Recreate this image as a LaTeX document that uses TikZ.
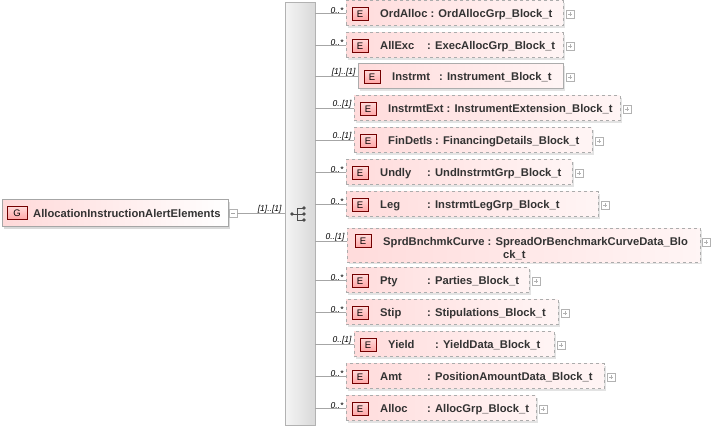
\documentclass[tikz,border=0pt]{standalone}
\usepackage{fontspec}
\setmainfont{Liberation Sans}
\newcommand{\ncol}[2]{\setbox0\hbox{#1}\ifdim\wd0<47pt \makebox[47pt][l]{\box0}\else\box0\ \fi: #2}
\begin{document}
\begin{tikzpicture}[x=1pt,y=-1pt,
  ebox/.style={draw=#1,left color=red!14,right color=red!4,minimum height=25pt,inner sep=0pt},
  eicon/.style={draw=red!45!black,top color=red!15,bottom color=red!35,minimum width=16pt,minimum height=13pt,inner sep=0pt,font=\fontsize{9.5}{10}\selectfont},
  txt/.style={font=\bfseries\fontsize{11.2}{14}\selectfont,text=black!80,anchor=west,inner sep=0pt},
  card/.style={font=\itshape\fontsize{8.5}{9}\selectfont,inner sep=0pt,anchor=south east},
  plus/.style={draw=gray!60,fill=white,minimum size=8pt,inner sep=0pt},
  conn/.style={draw=gray!70,line width=0.6pt}]
\useasboundingbox (0,0) rectangle (711,429);
% sequence bar
\node[draw=gray!60,left color=gray!8,right color=gray!30,minimum width=30pt,minimum height=423pt,inner sep=0pt] (seq) at (300,214) {};
\fill[black!70] (292,214) circle (1.8);
\draw[black!70,line width=0.9pt] (292,214) -- (297,214) (297,208) -- (297,220) (297,208)--(303,208) (297,214)--(303,214) (297,220)--(303,220);
\foreach \yy in {208,214,220} \fill[black!70] (304,\yy) circle (1.8);
% G box
\fill[gray!30] (4,202) rectangle (230,229);
\node[draw=gray!70,left color=red!15,right color=white,minimum width=226pt,minimum height=27pt,inner sep=0pt] (g) at (115,213) {};
\node[eicon,minimum width=20pt] (gi) at (17,213) {G};
\node[txt,anchor=base west] (gt) at (33,217) {AllocationInstructionAlertElements};
\node[plus] (gp) at (233,213) {};
\draw[gray!70] (231,213)--(235,213);
\draw[conn] (gp.east) -- (seq.west|-gp) node[card,pos=1,xshift=-3pt,yshift=-1pt] {[1]..[1]};
% children
\foreach \nm/\name/\type/\l/\r/\yy/\cd/\st in {
 a/OrdAlloc/OrdAllocGrp\_Block\_t/346/563/13/0..*/dashed,
 b/AllExc/ExecAllocGrp\_Block\_t/346/563/45/0..*/dashed,
 c/Instrmt/Instrument\_Block\_t/358/563/76/[1]..[1]/solid,
 d/InstrmtExt/InstrumentExtension\_Block\_t/354/620/108/0..[1]/dashed,
 e/FinDetls/FinancingDetails\_Block\_t/354/592/140/0..[1]/dashed,
 f/Undly/UndInstrmtGrp\_Block\_t/346/572/172/0..*/dashed,
 h/Leg/InstrmtLegGrp\_Block\_t/346/598/204/0..*/dashed,
 j/Pty/Parties\_Block\_t/346/529/280/0..*/dashed,
 k/Stip/Stipulations\_Block\_t/346/558/312/0..*/dashed,
 m/Yield/YieldData\_Block\_t/354/554/344/0..[1]/dashed,
 n/Amt/PositionAmountData\_Block\_t/346/604/376/0..*/dashed,
 o/Alloc/AllocGrp\_Block\_t/346/536/408/0..*/dashed}{
  \fill[gray!22] (\l+2,\yy-10.5) rectangle (\r+2,\yy+14.5);
  \node[ebox=gray!65,\st,minimum width=\r-\l] (\nm) at ({(\l+\r)/2},\yy) {};
  \node[eicon] (\nm i) at (\l+14,\yy+1) {E};
  \node[txt,anchor=base west] (\nm t) at (\l+34,\yy+4) {\ncol{\name}{\type}};
  \node[plus] (\nm p) at (\r+7,\yy+1) {};
  \draw[gray!60] (\r+5,\yy+1)--(\r+9,\yy+1) (\r+7,\yy-1)--(\r+7,\yy+3);
  \draw[conn] (seq.east|-\nm) -- (\nm.west) node[card,pos=1,xshift=-2pt,yshift=-1pt] {\cd};
}
% two-line one
\fill[gray!22] (349,230) rectangle (702,264);
\node[ebox=gray!65,dashed,minimum width=353pt,minimum height=34pt] (s) at (523.5,245) {};
\node[eicon] (si) at (363,241) {E};
\node[txt,anchor=base west] (st) at (383,245) {\ncol{SprdBnchmkCurve}{SpreadOrBenchmarkCurveData\_Blo}};
\node[txt,anchor=base west] (st2) at (503,258) {ck\_t};
\node[plus] (sp) at (706,242) {};
\draw[gray!60] (704,242)--(708,242) (706,240)--(706,244);
\draw[conn] (seq.east|-si) -- (s.west|-si) node[card,pos=1,xshift=-2pt,yshift=-1pt] {0..[1]};
\end{tikzpicture}
\end{document}
